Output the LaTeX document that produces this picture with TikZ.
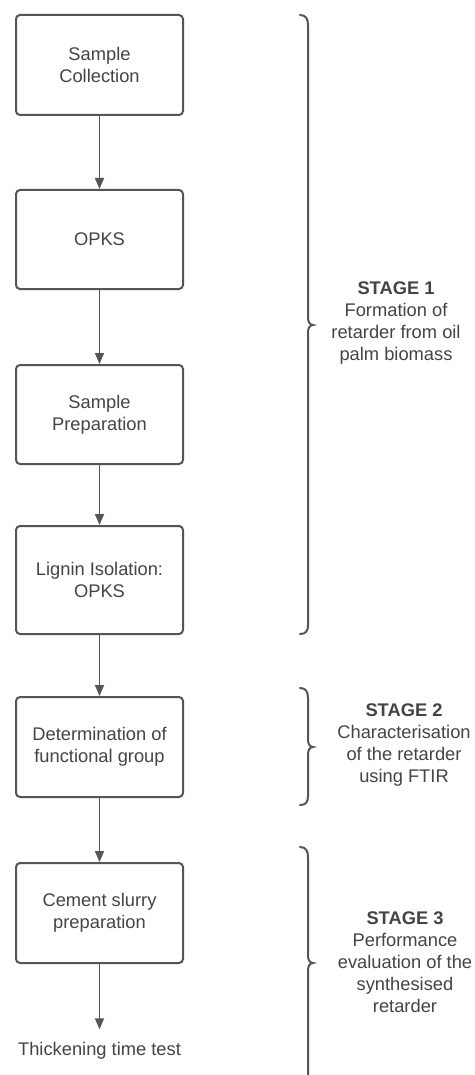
\documentclass[tikz,border=0pt]{standalone}
\usepackage{fontspec}
\setmainfont{Liberation Sans}
\usetikzlibrary{arrows.meta}
\definecolor{ln}{HTML}{555555}
\definecolor{tx}{HTML}{444444}
\begin{document}
\begin{tikzpicture}[x=1pt,y=-1pt,
  every node/.style={text=tx,font=\fontsize{18.3}{22}\selectfont,align=center},
  stepbox/.style={draw=ln,line width=2pt,rounded corners=4pt,minimum width=167pt,inner sep=0pt},
  flow/.style={draw=ln,line width=1.6pt,-{Triangle[width=9pt,length=11pt]}},
  bracepath/.style={draw=ln,line width=2pt,line cap=round}]
\useasboundingbox[fill=white] (0,0) rectangle (474,1075);
\node[stepbox,minimum height=100pt] (b1) at (99.5,65) {Sample\\Collection};
\node[stepbox,minimum height=99pt] (b2) at (99.5,239.5) {OPKS};
\node[stepbox,minimum height=99pt] (b3) at (99.5,414.5) {Sample\\Preparation};
\node[stepbox,minimum height=108pt] (b4) at (99.5,580) {Lignin Isolation:\\OPKS};
\node[stepbox,minimum height=100pt] (b5) at (99.5,747) {Determination of\\functional group};
\node[stepbox,minimum height=100pt] (b6) at (99.5,913) {Cement slurry\\preparation};
\node[inner sep=0pt] (tt) at (99.5,1051) {Thickening time test};
\draw[flow] (b1) -- (b2);
\draw[flow] (b2) -- (b3);
\draw[flow] (b3) -- (b4);
\draw[flow] (b4) -- (b5);
\draw[flow] (b5) -- (b6);
\draw[flow,shorten >=13pt] (b6) -- (tt);
% braces
\draw[bracepath] (300,15) .. controls (306,15) and (308,19) .. (308,25) -- (308,318)
  .. controls (308,322) and (310,325) .. (313,325) .. controls (310,325) and (308,328) .. (308,332)
  -- (308,625) .. controls (308,631) and (306,634) .. (300,634);
\draw[bracepath] (300,688) .. controls (306,688) and (308,692) .. (308,698) -- (308,740)
  .. controls (308,744) and (310,747) .. (313,747) .. controls (310,747) and (308,750) .. (308,754)
  -- (308,796) .. controls (308,802) and (306,805) .. (300,805);
\draw[bracepath] (300,847) .. controls (306,847) and (308,851) .. (308,857) -- (308,956)
  .. controls (308,960) and (310,963) .. (313,963) .. controls (310,963) and (308,966) .. (308,970)
  -- (308,1080);
\node (s1) at (396,323) {\textbf{STAGE 1}\\Formation of\\retarder from oil\\palm biomass};
\node (s2) at (404,745) {\textbf{STAGE 2}\\Characterisation\\of the retarder\\using FTIR};
\node (s3) at (405,962) {\textbf{STAGE 3}\\Performance\\evaluation of the\\synthesised\\retarder};
\end{tikzpicture}
\end{document}
